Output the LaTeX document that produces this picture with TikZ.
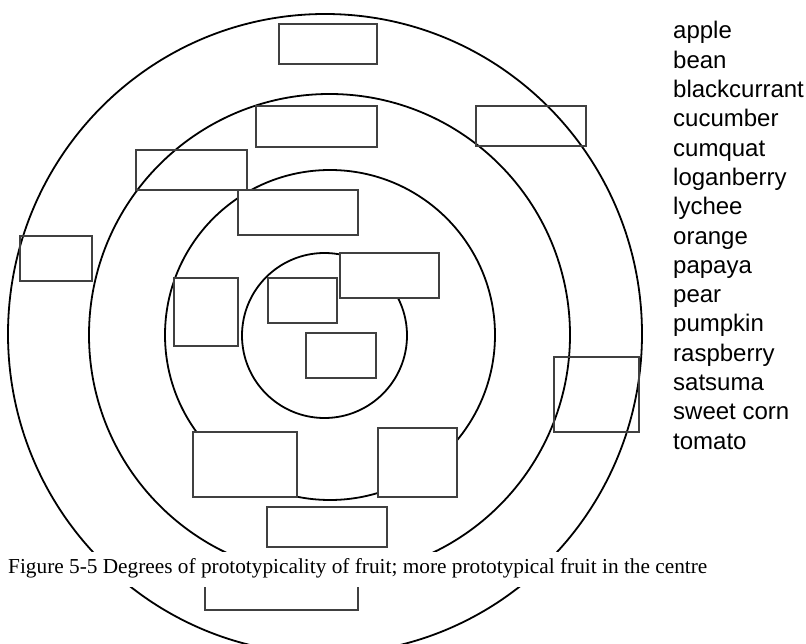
\documentclass[tikz,border=0pt]{standalone}
\usepackage{fontspec}
\setmainfont{Liberation Serif}
\setsansfont{Liberation Sans}

\tikzset{
  ring/.style={black, line width=1.8pt},
  slot/.style={draw=black!75, fill=white, line width=1.2pt},
  openslot/.style={draw=black!75, line width=1.2pt},
  fruit/.style={anchor=base west, inner sep=0pt, font=\sffamily\fontsize{24}{29}\selectfont}
}

\begin{document}
\begin{tikzpicture}[x=1pt, y=-1pt]
\useasboundingbox (0,0) rectangle (806,644);

\draw [ring] (325,334) ellipse [x radius=317pt, y radius=320pt];
\draw [ring] (329.5,335) ellipse [x radius=240.5pt, y radius=241pt];
\draw [ring] (330,335) ellipse [x radius=165pt, y radius=165pt];
\draw [ring] (324.5,335.5) ellipse [x radius=82.5pt, y radius=82.5pt];

\draw [slot] (279,24) rectangle (377,64);
\draw [openslot] (476,106) rectangle (586,146);
\draw [slot] (256,106) rectangle (377,147);
\draw [openslot] (136,150) rectangle (247,190);
\draw [slot] (238,190) rectangle (358,235);
\draw [openslot] (20,236) rectangle (92,281);
\draw [slot] (340,253) rectangle (439,298);
\draw [slot] (174,278) rectangle (238,346);
\draw [slot] (268,278) rectangle (337,323);
\draw [slot] (306,333) rectangle (376,378);
\draw [slot] (193,432) rectangle (297,497);
\draw [slot] (378,428) rectangle (457,497);
\draw [slot] (267,507) rectangle (387,547);
\draw [slot] (205,570) rectangle (358,610);
\draw [openslot] (554,357) rectangle (639,432);

\node (caption) at (8,573) [anchor=base west, fill=white, inner sep=0pt, text height=21pt, text depth=14pt, font=\fontsize{21.3}{25}\selectfont] {Figure 5-5 Degrees of prototypicality of fruit; more prototypical fruit in the centre};

\foreach \w [count=\i from 0] in {apple, bean, blackcurrant, cucumber, cumquat, loganberry, lychee, orange, papaya, pear, pumpkin, raspberry, satsuma, sweet corn, tomato}
  \node (fruit\i) at (673, 39+29.3*\i) [fruit] {\w};

\end{tikzpicture}
\end{document}
